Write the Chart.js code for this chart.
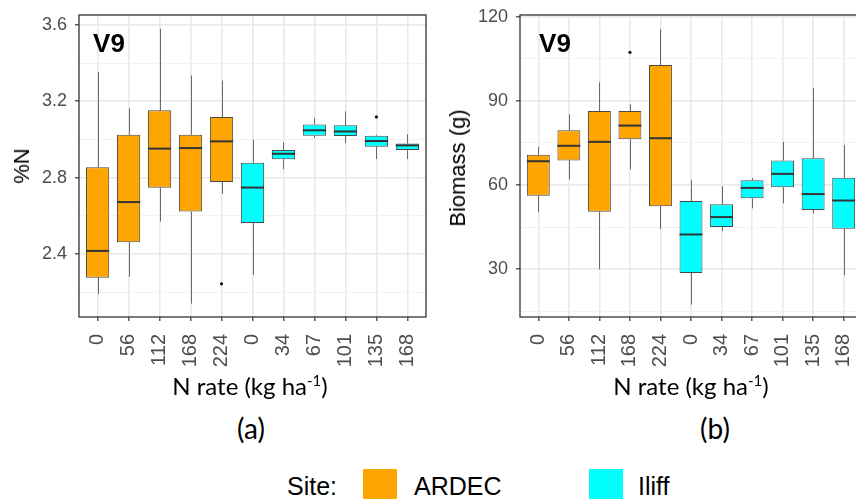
<!DOCTYPE html>
<html>
<head>
<meta charset="utf-8">
<script src="https://cdn.jsdelivr.net/npm/chart.js@4/dist/chart.umd.min.js"></script>
<style>
html,body{margin:0;padding:0;background:#fff;}
body{width:856px;height:499px;overflow:hidden;position:relative;}
canvas{position:absolute;top:0;}
#ca{left:0;}
#cb{left:432px;}
.t{position:absolute;white-space:nowrap;line-height:1;color:#000;}
.ax{font-family:"Liberation Sans",Arial,sans-serif;font-size:22px;transform:translate(-50%,-50%) rotate(-90deg);}
.v9{font-family:"Liberation Sans",Arial,sans-serif;font-weight:bold;font-size:26px;transform:translate(-50%,-50%);}
.xt{font-family:Lato,"Open Sans",sans-serif;font-size:24px;transform:translateX(-50%);}
.xt sup{font-size:15px;vertical-align:top;position:relative;top:-1px;}
.pl{font-family:Lato,"Open Sans",sans-serif;font-size:28px;transform:translateX(-50%);}
.lg{font-family:"Liberation Sans",Arial,sans-serif;font-size:25px;}
.sw{position:absolute;width:34px;height:34px;}
</style>
</head>
<body>
<canvas id="ca" width="432" height="400"></canvas>
<canvas id="cb" width="440" height="400"></canvas>

<div class="t ax" style="left:22px;top:166px;">%N</div>
<div class="t ax" style="left:458px;top:168px;">Biomass (g)</div>
<div class="t v9" style="left:109px;top:43px;">V9</div>
<div class="t v9" style="left:555px;top:43px;">V9</div>
<div class="t xt" style="left:250px;top:374px;">N rate (kg ha<sup>-1</sup>)</div>
<div class="t xt" style="left:691px;top:374px;">N rate (kg ha<sup>-1</sup>)</div>
<div class="t pl" style="left:251px;top:414px;">(a)</div>
<div class="t pl" style="left:715px;top:414px;">(b)</div>

<div class="t lg" style="left:287px;top:474px;">Site:</div>
<div class="sw" style="left:363px;top:469px;background:#FFA500;"></div>
<div class="t lg" style="left:414px;top:474px;">ARDEC</div>
<div class="sw" style="left:589px;top:469px;background:#00FFFF;"></div>
<div class="t lg" style="left:638px;top:474px;">Iliff</div>

<script>
// ---- data ----
const categories = ['0','56','112','168','224','0','34','67','101','135','168'];
const sites = ['ARDEC','ARDEC','ARDEC','ARDEC','ARDEC','Iliff','Iliff','Iliff','Iliff','Iliff','Iliff'];
const siteColors = { ARDEC: '#FFA500', Iliff: '#00FFFF' };

// panel (a): %N
const pctN_min    = [2.19, 2.28, 2.57, 2.14, 2.715, 2.29, 2.845, 3.008, 2.982, 2.897, 2.897];
const pctN_q1     = [2.276, 2.462, 2.747, 2.622, 2.777, 2.563, 2.897, 3.02, 3.018, 2.962, 2.945];
const pctN_median = [2.416, 2.672, 2.952, 2.955, 2.99, 2.748, 2.925, 3.048, 3.042, 2.992, 2.969];
const pctN_q3     = [2.855, 3.025, 3.153, 3.025, 3.118, 2.878, 2.945, 3.079, 3.074, 3.02, 2.979];
const pctN_max    = [3.354, 3.163, 3.58, 3.335, 3.309, 2.999, 2.985, 3.113, 3.147, 3.025, 3.027];
const pctN_outlierIdx = [4, 9];
const pctN_outlierVal = [2.244, 3.118];
const pctN_ticks = [2.4, 2.8, 3.2, 3.6];
const pctN_minorTicks = [2.2, 2.6, 3.0, 3.4];

// panel (b): Biomass (g)
const bio_min    = [50.3, 62.0, 30.0, 65.6, 44.3, 17.4, 43.6, 51.7, 53.5, 49.9, 27.9];
const bio_q1     = [56.2, 68.8, 50.5, 76.3, 52.5, 28.7, 45.1, 55.3, 59.2, 51.1, 44.4];
const bio_median = [68.5, 74.0, 75.4, 81.2, 76.7, 42.4, 48.6, 59.0, 64.0, 56.8, 54.5];
const bio_q3     = [70.8, 79.5, 86.4, 86.4, 102.8, 54.3, 53.2, 61.7, 68.8, 69.6, 62.6];
const bio_max    = [73.6, 85.2, 96.6, 88.8, 115.5, 61.7, 59.6, 62.5, 75.4, 94.7, 74.3];
const bio_outlierIdx = [3];
const bio_outlierVal = [107.3];
const bio_ticks = [30, 60, 90, 120];
const bio_minorTicks = [15, 45, 75, 105];

// ---- drawing ----
const Y_TICK_FONT = { family: '"Liberation Sans", Arial, sans-serif', size: 18 };
const X_TICK_FONT = { family: '"Liberation Sans", Arial, sans-serif', size: 20 };
const TICK_COLOR = '#4d4d4d';

function boxPlugin(st) {
  return {
    id: 'boxWhisker',
    beforeDatasetsDraw(chart) {
      const { ctx, scales: { x, y } } = chart;
      ctx.save();
      ctx.strokeStyle = '#6a6a6a';
      ctx.lineWidth = 1;
      st.min.forEach((_, i) => {
        const px = Math.round(x.getPixelForValue(i)) + 0.5;
        ctx.beginPath();
        ctx.moveTo(px, y.getPixelForValue(st.max[i]));
        ctx.lineTo(px, y.getPixelForValue(st.q3[i]));
        ctx.moveTo(px, y.getPixelForValue(st.q1[i]));
        ctx.lineTo(px, y.getPixelForValue(st.min[i]));
        ctx.stroke();
      });
      ctx.restore();
    },
    afterDatasetsDraw(chart) {
      const { ctx, scales: { y }, chartArea: ca } = chart;
      const meta = chart.getDatasetMeta(0);
      ctx.save();
      ctx.strokeStyle = '#333333';
      ctx.lineWidth = 2;
      st.median.forEach((m, i) => {
        const bar = meta.data[i];
        const half = bar.width / 2;
        const py = y.getPixelForValue(m);
        ctx.beginPath();
        ctx.moveTo(bar.x - half, py);
        ctx.lineTo(bar.x + half, py);
        ctx.stroke();
      });
      ctx.lineWidth = 1.3;
      ctx.strokeRect(ca.left, ca.top, ca.right - ca.left, ca.bottom - ca.top);
      ctx.restore();
    }
  };
}

function makePanel(canvasId, st, yMin, yMax, majors, minors, fmt, yAxisWidth, padRight) {
  const allTicks = majors.concat(minors).sort((a, b) => a - b);
  const isMajor = v => majors.indexOf(v) !== -1;
  new Chart(document.getElementById(canvasId), {
    type: 'bar',
    data: {
      datasets: [
        {
          type: 'bar',
          data: categories.map((c, i) => ({ x: i, y: [st.q1[i], st.q3[i]] })),
          backgroundColor: sites.map(s => siteColors[s]),
          borderColor: '#4a4a4a',
          borderWidth: 1,
          borderSkipped: false,
          categoryPercentage: 0.75,
          barPercentage: 1,
          grouped: false
        },
        {
          type: 'scatter',
          data: st.outIdx.map((k, j) => ({ x: k, y: st.outVal[j] })),
          pointRadius: 1.6,
          pointBackgroundColor: '#111',
          pointBorderWidth: 0
        }
      ]
    },
    options: {
      responsive: false,
      animation: false,
      events: [],
      layout: { padding: { left: 0, right: padRight, top: 15, bottom: 0 } },
      plugins: { legend: { display: false }, tooltip: { enabled: false } },
      scales: {
        x: {
          type: 'linear',
          min: -0.6,
          max: 10.6,
          offset: false,
          afterBuildTicks: s => { s.ticks = categories.map((_, i) => ({ value: i })); },
          afterFit: s => { s.height = 83; s.paddingLeft = 0; s.paddingRight = 0; },
          ticks: {
            callback: v => categories[v],
            autoSkip: false,
            minRotation: 90,
            maxRotation: 90,
            padding: 13,
            font: X_TICK_FONT,
            color: TICK_COLOR
          },
          grid: {
            offset: false,
            color: '#e8e8e8',
            lineWidth: 1.6,
            tickColor: '#333333',
            tickLength: 4,
            tickWidth: 1.2
          },
          border: { display: false }
        },
        y: {
          type: 'linear',
          min: yMin,
          max: yMax,
          afterBuildTicks: s => { s.ticks = allTicks.map(v => ({ value: v })); },
          afterFit: s => { s.width = yAxisWidth; s.paddingTop = 0; s.paddingBottom = 0; },
          ticks: {
            callback: v => isMajor(v) ? fmt(v) : '',
            padding: 8,
            font: Y_TICK_FONT,
            color: TICK_COLOR
          },
          grid: {
            color: ctx => isMajor(ctx.tick.value) ? '#e8e8e8' : '#f2f2f2',
            lineWidth: ctx => isMajor(ctx.tick.value) ? 1.6 : 1,
            tickColor: ctx => isMajor(ctx.tick.value) ? '#333333' : 'rgba(0,0,0,0)',
            tickLength: 4,
            tickWidth: 1.2
          },
          border: { display: false }
        }
      }
    },
    plugins: [boxPlugin(st)]
  });
}

makePanel('ca', {
  min: pctN_min, q1: pctN_q1, median: pctN_median, q3: pctN_q3, max: pctN_max,
  outIdx: pctN_outlierIdx, outVal: pctN_outlierVal
}, 2.07, 3.652, pctN_ticks, pctN_minorTicks, v => v.toFixed(1), 79, 6);

makePanel('cb', {
  min: bio_min, q1: bio_q1, median: bio_median, q3: bio_q3, max: bio_max,
  outIdx: bio_outlierIdx, outVal: bio_outlierVal
}, 13, 120.6, bio_ticks, bio_minorTicks, v => String(v), 88, 10);
</script>
</body>
</html>
